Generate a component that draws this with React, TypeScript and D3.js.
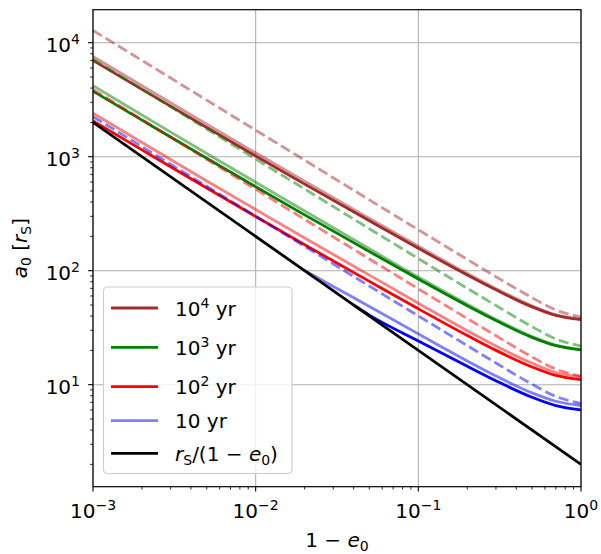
import * as d3 from "d3";

// 1 - e0 sample points shared by most curves
const oneMinusE = [0.001, 0.002, 0.005, 0.01, 0.02, 0.05, 0.1, 0.2, 0.3, 0.5, 0.7, 1];

// a0 in units of r_S
const brownSolid = [7000, 3897, 1805, 1016, 575, 274, 157.3, 91.6, 67.9, 48.2, 40.5, 37.2];
const brownLight = [7560, 4189, 1931, 1082, 609.5, 287.7, 163.6, 94.3, 69.6, 49.2, 41.1, 37.6];
const brownDashed = [12810, 6990, 3134, 1709, 932, 418, 228.6, 125.5, 88.6, 58, 45.2, 39.2];

const greenSolid = [3760, 2093, 969, 546, 309, 147, 84.5, 49.2, 36.5, 26, 22, 20.2];
const greenLight = [4200, 2323, 1066, 597, 333.7, 155.8, 87.9, 50.7, 37.4, 26.5, 22.3, 20.4];
const greenDashed = [7156, 3905, 1751, 955, 521, 233.5, 127.7, 70, 49.5, 32.3, 25.2, 21.8];

const redSolid = [2060, 1147, 531, 299, 169, 80.6, 46.3, 27, 20, 14.3, 12.05, 11.06];
const redLight = [2410, 1331, 613, 344, 193.5, 91.5, 51.9, 29.7, 21.8, 15.4, 12.8, 11.7];
const redDashed = [3882, 2118, 950, 518, 282, 126.7, 69.3, 38, 26.9, 17.5, 13.7, 11.9];

// the 10 yr solid curves only show where they leave the r_S/(1-e0) line
const blueLightX = [0.0195, 0.03, 0.05, 0.1, 0.2, 0.3, 0.5, 0.7, 1];
const blueLight = [102.6, 72.8, 48.6, 27.9, 16.15, 11.92, 8.47, 7.16, 6.57];
const blueSolidX = [0.04, 0.05, 0.1, 0.2, 0.3, 0.5, 0.7, 1];
const blueSolid = [50, 40.8, 24.2, 14.49, 10.82, 7.76, 6.56, 6.02];
const blueDashed = [2247, 1226, 550, 300, 163.5, 73.3, 40.1, 22, 15.5, 10.1, 7.9, 6.85];

const limitX = [0.001, 1];
const limitY = [2000, 2];

const xMajor = [1e-3, 1e-2, 1e-1, 1];
const xMajorExp = ["−3", "−2", "−1", "0"];
const yMajor = [10, 100, 1000, 10000];
const yMajorExp = ["1", "2", "3", "4"];

const W = 601;
const H = 554;
const left = 93;
const right = 581;
const top = 9.7;
const bottom = 486.7;
const font = "DejaVu Sans";
const lw = 2.8;
const dash = "10.3,4.4";

export default function App() {
  const x = d3.scaleLog().domain([1e-3, 1]).range([left, right]);
  const y = d3.scaleLog().domain([1.274, 19480]).range([bottom, top]);

  const line = (xs: number[], ys: number[]) =>
    d3
      .line<number>()
      .x((_, i) => x(xs[i]))
      .y((d) => y(d))
      .curve(d3.curveMonotoneX)(ys) || "";

  const series = [
    { xs: oneMinusE, ys: brownSolid, color: "#a52a2a", op: 1, dash: null },
    { xs: oneMinusE, ys: brownLight, color: "#a52a2a", op: 0.5, dash: null },
    { xs: oneMinusE, ys: brownDashed, color: "#a52a2a", op: 0.5, dash },
    { xs: oneMinusE, ys: greenSolid, color: "#008000", op: 1, dash: null },
    { xs: oneMinusE, ys: greenLight, color: "#008000", op: 0.5, dash: null },
    { xs: oneMinusE, ys: greenDashed, color: "#008000", op: 0.5, dash },
    { xs: oneMinusE, ys: redSolid, color: "#ff0000", op: 1, dash: null },
    { xs: oneMinusE, ys: redLight, color: "#ff0000", op: 0.5, dash: null },
    { xs: oneMinusE, ys: redDashed, color: "#ff0000", op: 0.5, dash },
    { xs: blueSolidX, ys: blueSolid, color: "#0000ff", op: 1, dash: null },
    { xs: blueLightX, ys: blueLight, color: "#0000ff", op: 0.5, dash: null },
    { xs: oneMinusE, ys: blueDashed, color: "#0000ff", op: 0.5, dash },
    { xs: limitX, ys: limitY, color: "#000000", op: 1, dash: null },
  ];

  // log minor ticks
  const xMinor: number[] = [];
  for (let p = -3; p < 0; p++) for (let k = 2; k < 10; k++) xMinor.push(k * 10 ** p);
  const yMinor: number[] = [];
  for (let p = 0; p <= 4; p++)
    for (let k = 2; k < 10; k++) {
      const v = k * 10 ** p;
      if (v > 1.274 && v < 19480) yMinor.push(v);
    }

  const legend = [
    { color: "#a52a2a", op: 1, exp: "4", cy: 308 },
    { color: "#008000", op: 1, exp: "3", cy: 347.3 },
    { color: "#ff0000", op: 1, exp: "2", cy: 386.7 },
    { color: "#0000ff", op: 0.5, exp: null, cy: 420.7 },
  ];

  return (
    <svg
      width={W}
      height={H}
      style={{ position: "absolute", left: 0, top: 0, background: "#fff" }}
      fontFamily={font}
    >
      <defs>
        <clipPath id="plotArea">
          <rect x={left} y={top} width={right - left} height={bottom - top} />
        </clipPath>
      </defs>
      <rect width={W} height={H} fill="#fff" />

      {/* grid */}
      <g stroke="#b0b0b0" strokeWidth={1.1}>
        {xMajor.map((v) => (
          <line key={"gx" + v} x1={x(v)} x2={x(v)} y1={top} y2={bottom} />
        ))}
        {yMajor.map((v) => (
          <line key={"gy" + v} x1={left} x2={right} y1={y(v)} y2={y(v)} />
        ))}
      </g>

      <g clipPath="url(#plotArea)" fill="none">
        {series.map((s, i) => (
          <path
            key={i}
            d={line(s.xs, s.ys)}
            stroke={s.color}
            strokeOpacity={s.op}
            strokeWidth={lw}
            strokeDasharray={s.dash || undefined}
          />
        ))}
      </g>

      {/* legend */}
      <g>
        <rect
          x={103.5}
          y={287}
          width={188.5}
          height={186.5}
          rx={4}
          fill="#fff"
          fillOpacity={0.8}
          stroke="#cccccc"
          strokeWidth={1.1}
        />
        {legend.map((l) => (
          <g key={l.cy}>
            <line x1={111} x2={158} y1={l.cy} y2={l.cy} stroke={l.color} strokeOpacity={l.op} strokeWidth={lw} />
            <text x={175} y={l.cy + 7.5} fontSize={20}>
              10
              {l.exp && (
                <tspan fontSize={14} dy={-8}>
                  {l.exp}
                </tspan>
              )}
              <tspan dy={l.exp ? 8 : 0}>{" yr"}</tspan>
            </text>
          </g>
        ))}
        <line x1={111} x2={158} y1={453.3} y2={453.3} stroke="#000" strokeWidth={lw} />
        <text x={175} y={460.5} fontSize={20}>
          <tspan fontStyle="italic">r</tspan>
          <tspan fontSize={14} dy={4}>S</tspan>
          <tspan dy={-4}>/(1 − </tspan>
          <tspan fontStyle="italic">e</tspan>
          <tspan fontSize={14} dy={4}>0</tspan>
          <tspan dy={-4}>)</tspan>
        </text>
      </g>

      {/* frame */}
      <rect x={left} y={top} width={right - left} height={bottom - top} fill="none" stroke="#000" strokeWidth={1.2} />

      {/* ticks */}
      <g stroke="#000">
        {xMajor.map((v) => (
          <line key={"xt" + v} x1={x(v)} x2={x(v)} y1={bottom} y2={bottom + 4.9} strokeWidth={1.1} />
        ))}
        {xMinor.map((v) => (
          <line key={"xm" + v} x1={x(v)} x2={x(v)} y1={bottom} y2={bottom + 2.8} strokeWidth={0.85} />
        ))}
        {yMajor.map((v) => (
          <line key={"yt" + v} x1={left - 4.9} x2={left} y1={y(v)} y2={y(v)} strokeWidth={1.1} />
        ))}
        {yMinor.map((v) => (
          <line key={"ym" + v} x1={left - 2.8} x2={left} y1={y(v)} y2={y(v)} strokeWidth={0.85} />
        ))}
      </g>

      {xMajor.map((v, i) => (
        <text key={"xl" + v} x={x(v)} y={518} textAnchor="middle" fontSize={20}>
          10
          <tspan fontSize={14} dy={-8}>
            {xMajorExp[i]}
          </tspan>
        </text>
      ))}
      {yMajor.map((v, i) => (
        <text key={"yl" + v} x={80} y={y(v) + 9.5} textAnchor="end" fontSize={20}>
          10
          <tspan fontSize={14} dy={-8}>
            {yMajorExp[i]}
          </tspan>
        </text>
      ))}

      {/* axis labels */}
      <text x={(left + right) / 2} y={547} textAnchor="middle" fontSize={20}>
        1 − <tspan fontStyle="italic">e</tspan>
        <tspan fontSize={14} dy={4}>0</tspan>
      </text>
      <text transform={`translate(27,${(top + bottom) / 2}) rotate(-90)`} textAnchor="middle" fontSize={20}>
        <tspan fontStyle="italic">a</tspan>
        <tspan fontSize={14} dy={4}>0</tspan>
        <tspan dy={-4}> [</tspan>
        <tspan fontStyle="italic">r</tspan>
        <tspan fontSize={14} dy={4}>S</tspan>
        <tspan dy={-4}>]</tspan>
      </text>
    </svg>
  );
}
